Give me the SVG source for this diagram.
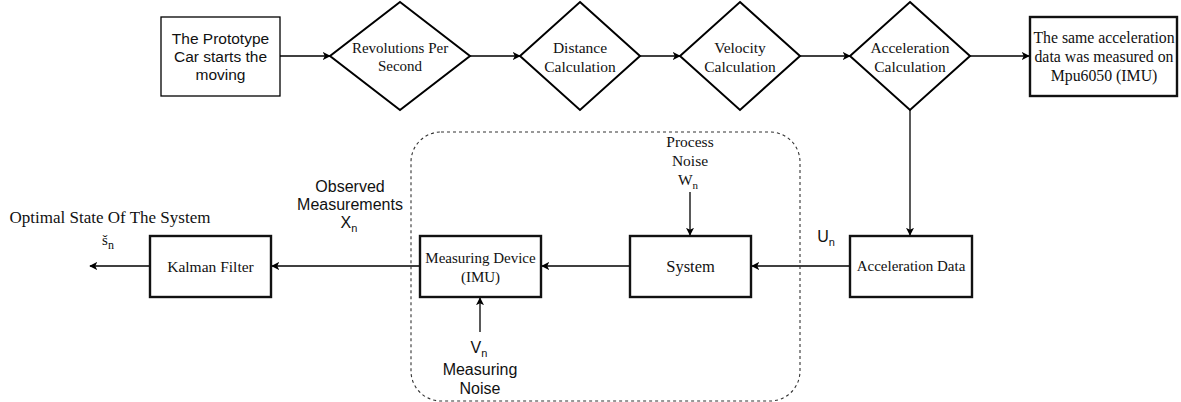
<svg xmlns="http://www.w3.org/2000/svg" width="1181" height="402" viewBox="0 0 1181 402">
<defs>
<style>
.serif{font-family:"Liberation Serif","Times New Roman",serif;fill:#111;text-anchor:middle}
.sans{font-family:"Liberation Sans",Arial,sans-serif;fill:#111;text-anchor:middle}
.thin{fill:#fff;stroke:#000;stroke-width:1.3}
.thick{fill:#fff;stroke:#111;stroke-width:2.4}
.dia{fill:#fff;stroke:#000;stroke-width:2}
.line{fill:none;stroke:#000;stroke-width:1.3}
</style>
<marker id="ah" viewBox="0 0 10 10" refX="9" refY="5" markerWidth="8" markerHeight="8" markerUnits="userSpaceOnUse" orient="auto">
<path d="M0,0 L10,5 L0,10 L2.5,5 z" fill="#000"/>
</marker>
</defs>
<rect width="1181" height="402" fill="#fff"/>

<g id="connectors">
<line class="line" x1="280" y1="56" x2="330" y2="56" marker-end="url(#ah)"/>
<line class="line" x1="470" y1="56" x2="520" y2="56" marker-end="url(#ah)"/>
<line class="line" x1="640" y1="56" x2="680" y2="56" marker-end="url(#ah)"/>
<line class="line" x1="800" y1="56" x2="850" y2="56" marker-end="url(#ah)"/>
<line class="line" x1="970" y1="56" x2="1029" y2="56" marker-end="url(#ah)"/>
<line class="line" x1="910" y1="110" x2="910" y2="235" marker-end="url(#ah)"/>
<line class="line" x1="850" y1="266" x2="752" y2="266" marker-end="url(#ah)"/>
<line class="line" x1="630" y1="266" x2="542" y2="266" marker-end="url(#ah)"/>
<line class="line" x1="420" y1="266" x2="272" y2="266" marker-end="url(#ah)"/>
<line class="line" x1="150" y1="266" x2="90" y2="266" marker-end="url(#ah)"/>
<line class="line" x1="690" y1="192" x2="690" y2="235" marker-end="url(#ah)"/>
<line class="line" x1="480" y1="332" x2="480" y2="298" marker-end="url(#ah)"/>
</g>

<g id="process-boundary">
<rect x="411" y="132" width="389" height="269" rx="30" ry="30" fill="none" stroke="#333" stroke-width="1.1" stroke-dasharray="3,3"/>
</g>

<g id="start">
<rect class="thin" x="161" y="17" width="119" height="79"/>
<text class="sans" font-size="15.5" x="220.5" y="44">The Prototype</text>
<text class="sans" font-size="15.5" x="220.5" y="62">Car starts the</text>
<text class="sans" font-size="15.5" x="220.5" y="80">moving</text>
</g>

<g id="rps">
<polygon class="dia" points="400,2 470,56 400,110 330,56"/>
<text class="serif" font-size="15" x="400" y="53">Revolutions Per</text>
<text class="serif" font-size="15" x="400" y="71">Second</text>
</g>

<g id="distance">
<polygon class="dia" points="580,2 640,56 580,110 520,56"/>
<text class="serif" font-size="15.5" x="580" y="53">Distance</text>
<text class="serif" font-size="15.5" x="580" y="72">Calculation</text>
</g>

<g id="velocity">
<polygon class="dia" points="740,2 800,56 740,110 680,56"/>
<text class="serif" font-size="15.5" x="740" y="53">Velocity</text>
<text class="serif" font-size="15.5" x="740" y="72">Calculation</text>
</g>

<g id="acceleration">
<polygon class="dia" points="910,2 970,56 910,110 850,56"/>
<text class="serif" font-size="15.5" x="910" y="53">Acceleration</text>
<text class="serif" font-size="15.5" x="910" y="72">Calculation</text>
</g>

<g id="imu-measured">
<rect class="thick" x="1030" y="17" width="147" height="79"/>
<text class="serif" font-size="15.8" x="1104" y="43">The same acceleration</text>
<text class="serif" font-size="15.8" x="1104" y="62">data was measured on</text>
<text class="serif" font-size="15.8" x="1104" y="81">Mpu6050 (IMU)</text>
</g>

<g id="acceleration-data">
<rect class="thick" x="850" y="236" width="122" height="61"/>
<text class="serif" font-size="15" x="911" y="271">Acceleration Data</text>
<text class="sans" font-size="16" x="826" y="242">U<tspan font-size="11" dy="4">n</tspan></text>
</g>

<g id="system">
<rect class="thick" x="630" y="236" width="121" height="61"/>
<text class="serif" font-size="16.5" x="690.5" y="272">System</text>
</g>

<g id="process-noise">
<text class="serif" font-size="15.5" x="690" y="147">Process</text>
<text class="serif" font-size="15.5" x="690" y="166">Noise</text>
<text class="serif" font-size="15.5" x="688" y="185">W<tspan font-size="11" dy="4">n</tspan></text>
</g>

<g id="measuring-device">
<rect class="thick" x="420" y="236" width="121" height="61"/>
<text class="serif" font-size="15" x="480.5" y="263">Measuring Device</text>
<text class="serif" font-size="15" x="480.5" y="282">(IMU)</text>
</g>

<g id="measuring-noise">
<text class="sans" font-size="16" x="479" y="353">V<tspan font-size="11" dy="4">n</tspan></text>
<text class="sans" font-size="16" x="480" y="375">Measuring</text>
<text class="sans" font-size="16" x="480" y="394">Noise</text>
</g>

<g id="observed">
<text class="sans" font-size="16" x="350" y="192">Observed</text>
<text class="sans" font-size="16" x="350" y="210">Measurements</text>
<text class="sans" font-size="16" x="349" y="228">X<tspan font-size="11" dy="4">n</tspan></text>
</g>

<g id="kalman">
<rect class="thick" x="150" y="236" width="121" height="61"/>
<text class="serif" font-size="15.5" x="210.5" y="272">Kalman Filter</text>
</g>

<g id="optimal">
<text class="serif" font-size="17" x="110" y="223">Optimal State Of The System</text>
<text class="serif" font-size="15" x="108" y="245">š<tspan font-size="12" dy="4">n</tspan></text>
</g>
</svg>
